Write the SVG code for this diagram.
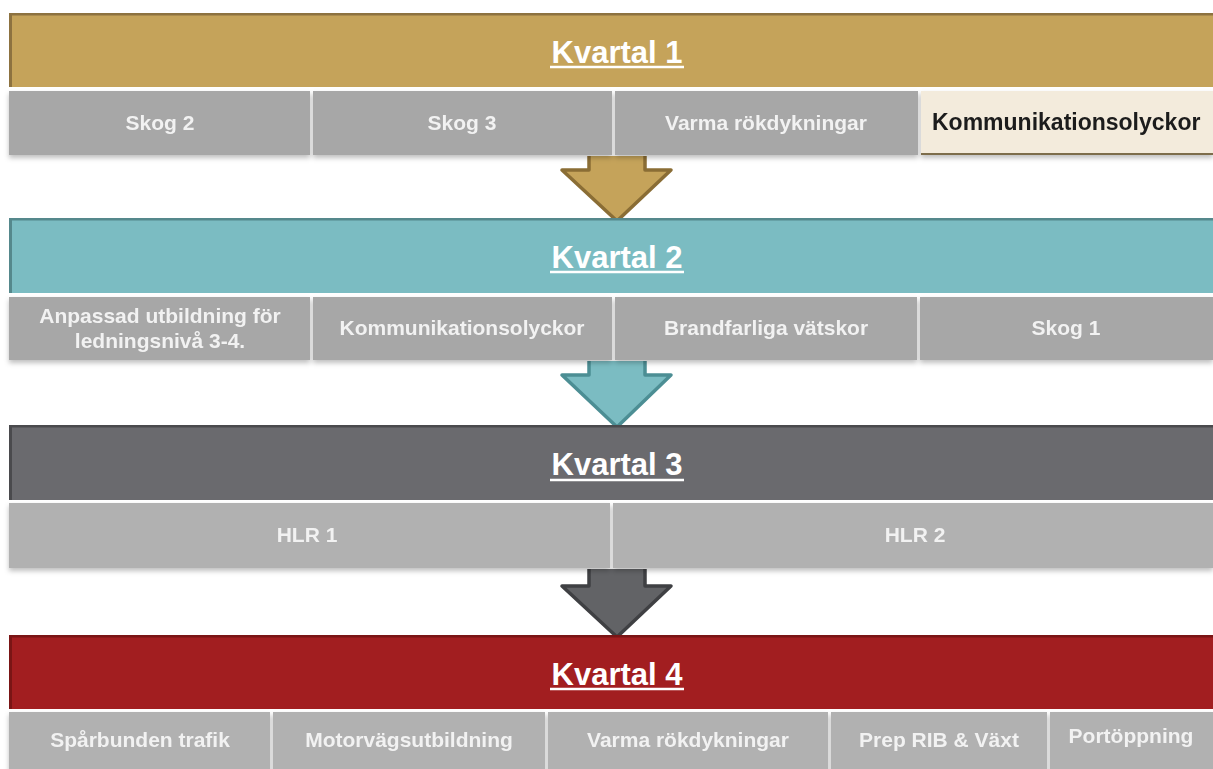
<svg xmlns="http://www.w3.org/2000/svg" width="1213" height="769" viewBox="0 0 1213 769">
<defs>
<filter id="sh" x="-5%" y="-20%" width="110%" height="150%">
<feDropShadow dx="0" dy="3" stdDeviation="2.5" flood-color="#000" flood-opacity="0.25"/>
</filter>
<style>
.hd{font-family:"Liberation Sans",Arial,sans-serif;font-weight:bold;font-size:31px;fill:#ffffff;text-anchor:middle}
.ul{stroke:#ffffff;stroke-width:2.5}
.ct{font-family:"Liberation Sans",Arial,sans-serif;font-weight:bold;font-size:21px;fill:#f2f2f2;text-anchor:middle}
.g1{fill:#a7a7a7}
.g2{fill:#b1b1b1}
.arr{stroke-width:3.5;stroke-linejoin:round;stroke-linecap:butt}
</style>
</defs>
<rect width="1213" height="769" fill="#ffffff"/>

<g id="connectors">
<path class="arr" d="M589,156 L589,170 L562,170 L617,221 L671,170 L645,170 L645,156 Z" fill="#c5a35a" stroke="none"/>
<path class="arr" d="M589,156 L589,170 L562,170 L617,221 L671,170 L645,170 L645,156" fill="none" stroke="#8a6d35"/>
<path class="arr" d="M589,361 L589,375 L562,375 L617,427 L671,375 L645,375 L645,361 Z" fill="#7bbcc2" stroke="none"/>
<path class="arr" d="M589,361 L589,375 L562,375 L617,427 L671,375 L645,375 L645,361" fill="none" stroke="#4c8e94"/>
<path class="arr" d="M589,569 L589,586 L562,586 L617,637 L671,586 L645,586 L645,569 Z" fill="#626366" stroke="none"/>
<path class="arr" d="M589,569 L589,586 L562,586 L617,637 L671,586 L645,586 L645,569" fill="none" stroke="#3f4043"/>
</g>

<g id="kvartal1">
<rect x="9" y="13" width="1204" height="74" fill="#c5a35a"/>
<rect x="9" y="13" width="1204" height="2.5" fill="#8d7240"/>
<rect x="9" y="13" width="3" height="74" fill="#8d7240"/>
<text class="hd" x="617" y="63">Kvartal 1</text>
<line class="ul" x1="550" y1="67" x2="684" y2="67"/>
</g>
<g id="k1-cells" filter="url(#sh)">
<g id="k1-c1"><rect class="g1" x="9" y="91" width="301" height="64"/><text class="ct" x="160" y="130">Skog 2</text></g>
<g id="k1-c2"><rect class="g1" x="313" y="91" width="299" height="64"/><text class="ct" x="462" y="130">Skog 3</text></g>
<g id="k1-c3"><rect class="g1" x="615" y="91" width="303" height="64"/><text class="ct" x="766" y="130">Varma rökdykningar</text></g>
<g id="k1-c4"><rect x="921" y="91" width="292" height="64" fill="#f3ebdc"/><rect x="921" y="153" width="292" height="2" fill="#7d6d4c"/><text x="932" y="130" font-family="Liberation Sans, Arial, sans-serif" font-weight="bold" font-size="23" fill="#1c1c1c">Kommunikationsolyckor</text></g>
</g>

<g id="kvartal2">
<rect x="9" y="218" width="1204" height="75" fill="#7bbcc2"/>
<rect x="9" y="218" width="1204" height="2.5" fill="#55888c"/>
<rect x="9" y="218" width="3" height="75" fill="#55888c"/>
<text class="hd" x="617" y="268">Kvartal 2</text>
<line class="ul" x1="550" y1="272" x2="684" y2="272"/>
</g>
<g id="k2-cells" filter="url(#sh)">
<g id="k2-c1"><rect class="g1" x="9" y="297" width="301" height="63"/><text class="ct" x="160" y="323">Anpassad utbildning för</text><text class="ct" x="160" y="348">ledningsnivå 3-4.</text></g>
<g id="k2-c2"><rect class="g1" x="313" y="297" width="299" height="63"/><text class="ct" x="462" y="335">Kommunikationsolyckor</text></g>
<g id="k2-c3"><rect class="g1" x="615" y="297" width="302" height="63"/><text class="ct" x="766" y="335">Brandfarliga vätskor</text></g>
<g id="k2-c4"><rect class="g1" x="920" y="297" width="293" height="63"/><text class="ct" x="1066" y="335">Skog 1</text></g>
</g>

<g id="kvartal3">
<rect x="9" y="425" width="1204" height="75" fill="#6a6a6e"/>
<rect x="9" y="425" width="1204" height="2.5" fill="#4a4a4d"/>
<rect x="9" y="425" width="3" height="75" fill="#4a4a4d"/>
<text class="hd" x="617" y="475">Kvartal 3</text>
<line class="ul" x1="550" y1="480" x2="684" y2="480"/>
</g>
<g id="k3-cells" filter="url(#sh)">
<g id="k3-c1"><rect class="g2" x="9" y="503" width="601" height="65"/><text class="ct" x="307" y="542">HLR 1</text></g>
<g id="k3-c2"><rect class="g2" x="613" y="503" width="600" height="65"/><text class="ct" x="915" y="542">HLR 2</text></g>
</g>

<g id="kvartal4">
<rect x="9" y="635" width="1204" height="74" fill="#a21e20"/>
<rect x="9" y="635" width="1204" height="2.5" fill="#7a1515"/>
<rect x="9" y="635" width="3" height="74" fill="#7a1515"/>
<text class="hd" x="617" y="685">Kvartal 4</text>
<line class="ul" x1="550" y1="689" x2="684" y2="689"/>
</g>
<g id="k4-cells" filter="url(#sh)">
<g id="k4-c1"><rect class="g2" x="9" y="712" width="261" height="60"/><text class="ct" x="140" y="747">Spårbunden trafik</text></g>
<g id="k4-c2"><rect class="g2" x="273" y="712" width="272" height="60"/><text class="ct" x="409" y="747">Motorvägsutbildning</text></g>
<g id="k4-c3"><rect class="g2" x="548" y="712" width="280" height="60"/><text class="ct" x="688" y="747">Varma rökdykningar</text></g>
<g id="k4-c4"><rect class="g2" x="831" y="712" width="216" height="60"/><text class="ct" x="939" y="747">Prep RIB &amp; Växt</text></g>
<g id="k4-c5"><rect class="g2" x="1050" y="712" width="163" height="60"/><text class="ct" x="1131" y="743">Portöppning</text></g>
</g>
</svg>
